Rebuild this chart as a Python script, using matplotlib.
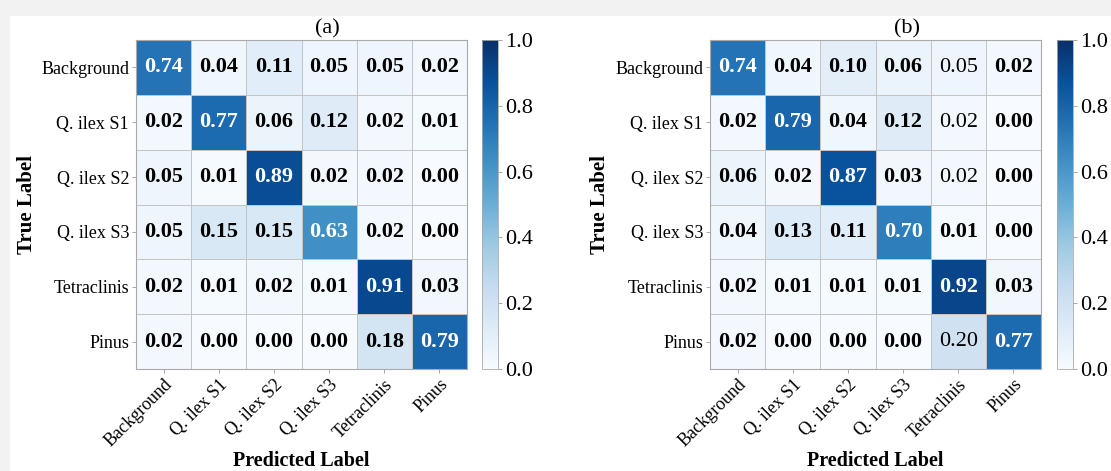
import numpy as np
import matplotlib
matplotlib.use("Agg")
import matplotlib.pyplot as plt
from matplotlib.patches import Rectangle

plt.rcParams['font.family'] = ['Liberation Serif', 'DejaVu Serif']

classes = ["Background", "Q. ilex S1", "Q. ilex S2", "Q. ilex S3", "Tetraclinis", "Pinus"]

cm_a = [[0.74, 0.04, 0.11, 0.05, 0.05, 0.02],
        [0.02, 0.77, 0.06, 0.12, 0.02, 0.01],
        [0.05, 0.01, 0.89, 0.02, 0.02, 0.00],
        [0.05, 0.15, 0.15, 0.63, 0.02, 0.00],
        [0.02, 0.01, 0.02, 0.01, 0.91, 0.03],
        [0.02, 0.00, 0.00, 0.00, 0.18, 0.79]]

cm_b = [[0.74, 0.04, 0.10, 0.06, 0.05, 0.02],
        [0.02, 0.79, 0.04, 0.12, 0.02, 0.00],
        [0.06, 0.02, 0.87, 0.03, 0.02, 0.00],
        [0.04, 0.13, 0.11, 0.70, 0.01, 0.00],
        [0.02, 0.01, 0.01, 0.01, 0.92, 0.03],
        [0.02, 0.00, 0.00, 0.00, 0.20, 0.77]]

panel_titles = ["(a)", "(b)"]
cbar_ticks = [0.0, 0.2, 0.4, 0.6, 0.8, 1.0]
# cells whose annotation appears in lighter weight in panel (b)
regular_b = [(0, 4), (1, 4), (2, 4), (5, 4)]

W, H = 1111, 471
fig = plt.figure(figsize=(W / 100, H / 100), dpi=100, facecolor='white')

# light gray frame strip on top and left
fig.patches.append(Rectangle((0, 1 - 16 / H), 1, 16 / H, transform=fig.transFigure,
                             facecolor='#f2f2f2', edgecolor='none', zorder=-10))
fig.patches.append(Rectangle((0, 0), 10 / W, 1, transform=fig.transFigure,
                             facecolor='#f2f2f2', edgecolor='none', zorder=-10))

def fx(px):
    return px / W

def fy(py):
    return 1 - py / H

panels = [
    dict(data=cm_a, hm_left=136, cb_left=482, title_x=327, ylab_x=27, regular=[]),
    dict(data=cm_b, hm_left=710, cb_left=1057, title_x=907, ylab_x=600, regular=regular_b),
]

top_px, bot_px = 40, 369
hm_w = 331
cb_w = 16

for p, title in zip(panels, panel_titles):
    data = np.array(p['data'])
    ax = fig.add_axes([fx(p['hm_left']), fy(bot_px), hm_w / W, (bot_px - top_px) / H])
    mesh = ax.pcolormesh(np.arange(7), np.arange(7), data, cmap='Blues', vmin=0, vmax=1,
                         edgecolors='#c4c4c4', linewidth=0.5)
    ax.set_xlim(0, 6)
    ax.set_ylim(6, 0)
    ax.set_xticks(np.arange(6) + 0.5)
    ax.set_yticks(np.arange(6) + 0.5)
    ax.set_xticklabels(classes, rotation=45, ha='right', rotation_mode='anchor', fontsize=13)
    ax.set_yticklabels(classes, fontsize=13)
    ax.tick_params(length=3, width=0.6, color='#999999', pad=2)
    for s in ax.spines.values():
        s.set_color('#aaaaaa')
        s.set_linewidth(0.8)
    for i in range(6):
        for j in range(6):
            v = data[i, j]
            col = 'white' if v > 0.5 else 'black'
            wt = 'normal' if (i, j) in p['regular'] else 'bold'
            ax.text(j + 0.5, i + 0.5, f"{v:.2f}", ha='center', va='center',
                    fontsize=16, fontweight=wt, color=col)

    cax = fig.add_axes([fx(p['cb_left']), fy(bot_px), cb_w / W, (bot_px - top_px) / H])
    cb = fig.colorbar(mesh, cax=cax, ticks=cbar_ticks)
    cb.ax.set_yticklabels([f"{t:.1f}" for t in cbar_ticks], fontsize=16)
    cb.ax.tick_params(length=3, width=0.6, color='#999999', pad=2)
    cb.outline.set_edgecolor('#aaaaaa')
    cb.outline.set_linewidth(0.6)

    fig.text(fx(p['title_x']), fy(29), title, ha='center', va='center', fontsize=16)
    fig.text(fx(p['ylab_x']), fy(204), "True Label", ha='center', va='center',
             rotation=90, fontsize=15, fontweight='bold')
    fig.text(fx(p['hm_left'] + hm_w / 2), fy(461), "Predicted Label", ha='center', va='center',
             fontsize=14.5, fontweight='bold')

fig.savefig("out.png", dpi=100, facecolor=fig.get_facecolor())
